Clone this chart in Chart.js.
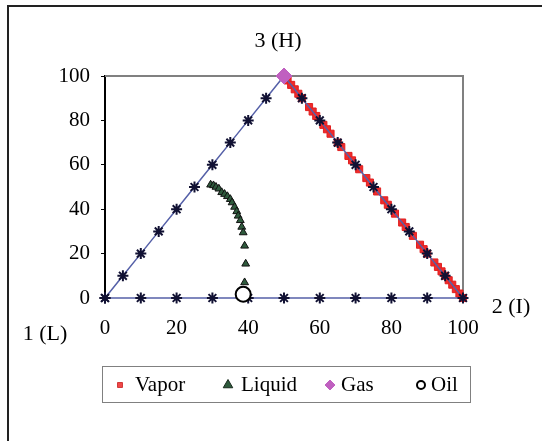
<!DOCTYPE html>
<html>
<head>
<meta charset="utf-8">
<script src="https://cdn.jsdelivr.net/npm/chart.js@4.4.0/dist/chart.umd.min.js"></script>
<style>
  html, body { margin: 0; padding: 0; background: #fff; }
  #wrap { width: 542px; height: 441px; }
</style>
</head>
<body>
<div id="wrap"><canvas id="chart" width="542" height="441"></canvas></div>
<script>
/* ternary phase diagram drawn on cartesian axes */

const FONT = '"Liberation Serif", "Times New Roman", serif';

const AXIS_TICKS = [0, 20, 40, 60, 80, 100];
const CORNER_LABELS = ['1 (L)', '2 (I)', '3 (H)'];

// triangle outline with marker points
const triangleX = [0, 5, 10, 15, 20, 25, 30, 35, 40, 45, 50, 55, 60, 65, 70, 75, 80, 85, 90, 95, 100, 90, 80, 70, 60, 50, 40, 30, 20, 10, 0];
const triangleY = [0, 10, 20, 30, 40, 50, 60, 70, 80, 90, 100, 90, 80, 70, 60, 50, 40, 30, 20, 10, 0, 0, 0, 0, 0, 0, 0, 0, 0, 0, 0];

const vaporX = [51, 52, 53, 54, 55, 57, 58, 59, 61, 62, 63, 65, 66, 68, 69, 71, 73, 74, 76, 78, 79, 81, 83, 84, 86, 88, 89, 90, 92, 93, 94, 95, 96, 97, 98, 99, 100];
const vaporY = [98, 96, 94, 92, 90, 86, 84, 82, 78, 76, 74, 70, 68, 64, 62, 58, 54, 52, 48, 44, 42, 38, 34, 32, 28, 24, 22, 20, 16, 14, 12, 10, 8, 6, 4, 2, 0];

const liquidX = [29.5, 30.3, 31, 31.8, 32.6, 33.4, 34.2, 35, 35.5, 36.2, 36.8, 37.2, 37.8, 38.2, 38.6, 39, 39.3, 39];
const liquidY = [51, 50.7, 50, 49.2, 47.6, 46.8, 45.8, 44.5, 43, 41, 39, 37, 35, 32, 29.5, 23.5, 15.4, 7];

const gasX = [50];
const gasY = [100];

const oilX = [38.6];
const oilY = [1.7];

function pts(xs, ys) {
  return xs.map(function(x, i) { return { x: x, y: ys[i] }; });
}

const LEGEND_ITEMS = [
  { label: 'Vapor', style: 'rect', radius: 3.5, fill: '#f04848', stroke: '#d03838', bw: 1, mx: 120, tx: 135 },
  { label: 'Liquid', style: 'triangle', radius: 5.5, fill: '#2e5a3c', stroke: '#1a2a1e', bw: 1, mx: 228, tx: 241 },
  { label: 'Gas', style: 'rectRot', radius: 5, fill: '#c060c0', stroke: '#c060c0', bw: 1, mx: 330, tx: 341 },
  { label: 'Oil', style: 'circle', radius: 4, fill: '#ffffff', stroke: '#000000', bw: 2, mx: 421, tx: 431 }
];

const framePlugin = {
  id: 'frame',
  beforeDraw: function(chart) {
    var ctx = chart.ctx;
    ctx.save();
    ctx.fillStyle = '#fff';
    ctx.fillRect(0, 0, chart.width, chart.height);
    ctx.restore();
  },
  afterDraw: function(chart) {
    var ctx = chart.ctx;
    ctx.save();
    // outer chart border (only top and left are visible)
    ctx.strokeStyle = '#222';
    ctx.lineWidth = 2;
    ctx.beginPath();
    ctx.moveTo(8, 441);
    ctx.lineTo(8, 6);
    ctx.lineTo(542, 6);
    ctx.stroke();
    // corner labels
    ctx.fillStyle = '#000';
    ctx.font = '22px ' + FONT;
    ctx.textBaseline = 'middle';
    ctx.textAlign = 'center';
    ctx.fillText(CORNER_LABELS[2], 278, 41);
    ctx.fillText(CORNER_LABELS[0], 45, 334);
    ctx.fillText(CORNER_LABELS[1], 511, 307);
    // legend box
    ctx.strokeStyle = '#808080';
    ctx.lineWidth = 1;
    ctx.strokeRect(102.5, 366.5, 368, 36);
    ctx.font = '21px ' + FONT;
    LEGEND_ITEMS.forEach(function(it) {
      ctx.fillStyle = it.fill;
      ctx.strokeStyle = it.stroke;
      ctx.lineWidth = it.bw;
      Chart.helpers.drawPoint(ctx, { pointStyle: it.style, radius: it.radius, rotation: 0, borderWidth: it.bw }, it.mx, 385);
      ctx.fillStyle = '#000';
      ctx.textAlign = 'left';
      ctx.fillText(it.label, it.tx, 385);
    });
    ctx.restore();
  },
  beforeDatasetsDraw: function(chart) {
    var ctx = chart.ctx;
    var a = chart.chartArea;
    ctx.save();
    ctx.strokeStyle = '#808080';
    ctx.lineWidth = 2;
    ctx.beginPath();
    ctx.moveTo(a.left, a.top);
    ctx.lineTo(a.right, a.top);
    ctx.lineTo(a.right, a.bottom);
    ctx.stroke();
    ctx.restore();
  }
};

new Chart(document.getElementById('chart'), {
  type: 'scatter',
  data: {
    datasets: [{
      label: 'Gas',
      data: pts(gasX, gasY),
      pointStyle: 'rectRot', pointRadius: 8,
      backgroundColor: '#c060c0', borderColor: '#c060c0', borderWidth: 1,
      clip: false, order: 0
    }, {
      label: 'Oil',
      data: pts(oilX, oilY),
      pointStyle: 'circle', pointRadius: 7.5,
      backgroundColor: '#ffffff', borderColor: '#000000', borderWidth: 2,
      clip: false, order: 1
    }, {
      label: 'Triangle',
      data: pts(triangleX, triangleY),
      showLine: true, borderColor: '#5560a8', borderWidth: 1.5,
      pointStyle: 'star', pointRadius: 5.5, pointBorderColor: '#111133',
      pointBorderWidth: 2, pointBackgroundColor: '#111133',
      clip: false, order: 2
    }, {
      label: 'Liquid',
      data: pts(liquidX, liquidY),
      pointStyle: 'triangle', pointRadius: 4.5,
      backgroundColor: '#2e5a3c', borderColor: '#111', borderWidth: 1,
      clip: false, order: 3
    }, {
      label: 'Vapor',
      data: pts(vaporX, vaporY),
      pointStyle: 'rect', pointRadius: 5,
      backgroundColor: '#f02a2a', borderColor: '#e02020', borderWidth: 1,
      clip: false, order: 4
    }]
  },
  options: {
    responsive: false,
    animation: false,
    layout: { padding: { left: 45, top: 76, right: 79, bottom: 98 } },
    plugins: { legend: { display: false }, tooltip: { enabled: false } },
    scales: {
      x: {
        type: 'linear', min: 0, max: 100,
        afterFit: function(s) { s.height = 45; },
        afterBuildTicks: function(s) { s.ticks = AXIS_TICKS.map(function(v) { return { value: v }; }); },
        grid: { drawOnChartArea: false, tickLength: 4, color: 'transparent' },
        border: { display: false },
        ticks: { color: '#000', padding: 14, maxRotation: 0, font: { family: FONT, size: 21 } }
      },
      y: {
        type: 'linear', min: 0, max: 100,
        afterFit: function(s) { s.width = 60; },
        afterBuildTicks: function(s) { s.ticks = AXIS_TICKS.map(function(v) { return { value: v }; }); },
        grid: { drawOnChartArea: false, tickLength: 4, color: '#000' },
        border: { color: '#000', width: 2 },
        ticks: { color: '#000', padding: 11, font: { family: FONT, size: 21 } }
      }
    }
  },
  plugins: [framePlugin]
});
</script>
</body>
</html>
